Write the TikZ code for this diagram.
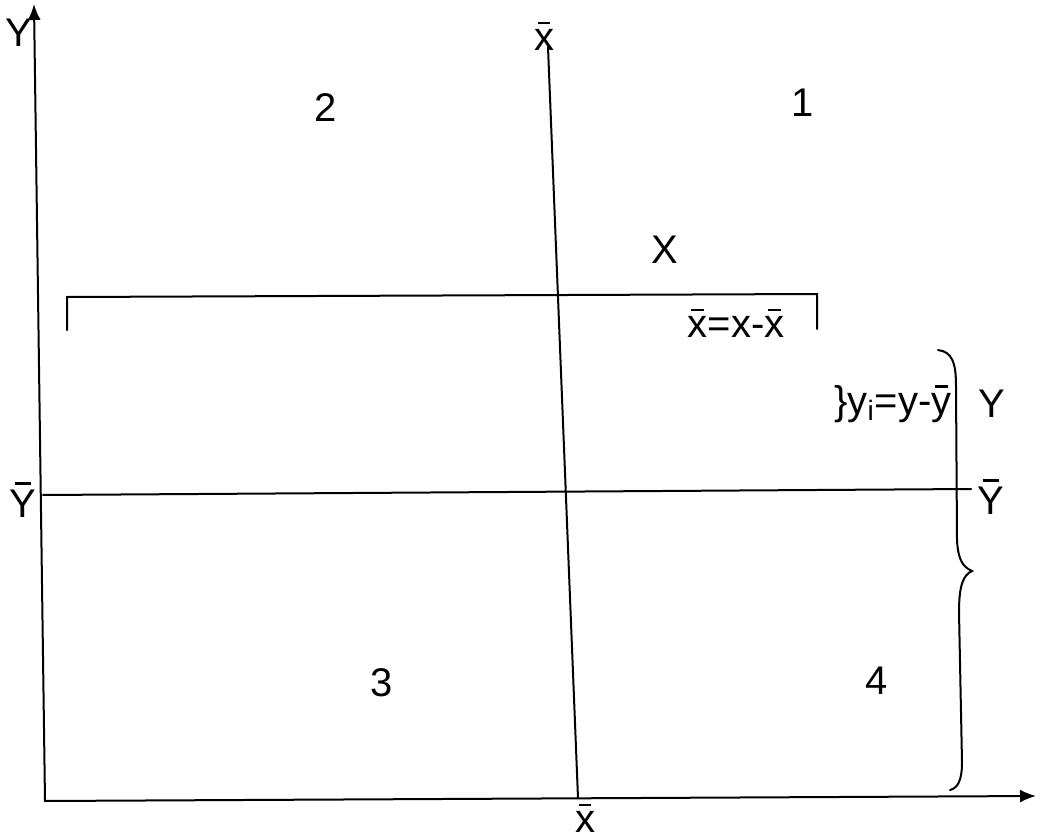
\documentclass[tikz,border=0pt]{standalone}
\usepackage{fontspec}
\setmainfont{Liberation Sans}
\usetikzlibrary{arrows.meta}
\newcommand\ob[1]{{\setbox0\hbox{#1}\rlap{\hbox to\wd0{\hss\rule[\dimexpr\ht0+0.13em\relax]{0.62\wd0}{0.065em}\hss}}\box0}}
\begin{document}
\begin{tikzpicture}[x=0.5pt,y=-0.5pt,
  ln/.style={line width=1pt,line cap=round},
  axis/.style={ln,-{Latex[length=8pt,width=6.5pt]}},
  lbl/.style={inner sep=0pt,font=\fontsize{20}{24}\selectfont}]
\useasboundingbox (0,0) rectangle (1050,840);
% axes
\coordinate (o) at (45,801);
\coordinate (ytop) at (34,4);
\coordinate (xend) at (1036,796);
\draw[axis] (o) -- (ytop);
\draw[axis] (o) -- (xend);
\node[lbl] (Ylab) at (19,33) {Y};
% mean lines
\coordinate (xbt) at (548,47);
\coordinate (xbb) at (578,798);
\draw[ln] (xbt) -- (xbb);
\coordinate (ybl) at (43,495);
\coordinate (ybr) at (971,489);
\draw[ln] (ybl) -- (ybr);
\node[lbl] (xbtop) at (544,36) {\ob{x}};
\node[lbl] (xbbot) at (585,818) {\ob{x}};
\node[lbl] (Ybl) at (23,500) {\ob{Y}};
\node[lbl] (Ybr) at (991,497) {\ob{Y}};
% bracket
\coordinate (bl) at (67,330);
\coordinate (blt) at (67,297);
\coordinate (brt) at (817,294);
\coordinate (br) at (817,329);
\draw[ln] (bl) -- (blt) -- (brt) -- (br);
\node[lbl] (dx) at (736,323) {\ob{x}=x-\ob{x}};
\node[lbl] (X) at (665,250) {X};
% quadrant numbers
\node[lbl] (q1) at (803,103) {1};
\node[lbl] (q2) at (326,108) {2};
\node[lbl] (q3) at (382,683) {3};
\node[lbl] (q4) at (877,681) {4};
% brace
\draw[ln] (938,350) .. controls (952,352) and (956,362) .. (956,386)
  -- (957,540) .. controls (958,560) and (963,567) .. (972,571)
  .. controls (963,575) and (959,586) .. (959,612)
  -- (962,762) .. controls (962,780) and (958,788) .. (950,790);
\node[lbl] (dy) at (893,404) {\}y\textsubscript{i}=y-\ob{y}};
\node[lbl] (Yr) at (992,404) {Y};
\end{tikzpicture}
\end{document}
